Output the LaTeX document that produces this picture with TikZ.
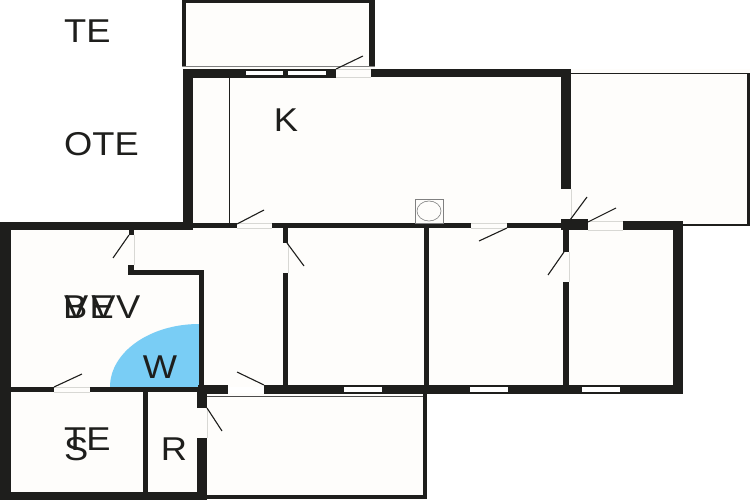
\documentclass[tikz,border=0pt]{standalone}
\usepackage{fontspec}
\setmainfont{Liberation Sans}
\definecolor{wallc}{HTML}{1E1E1C}
\definecolor{roomc}{HTML}{FEFDFB}
\definecolor{bluec}{HTML}{79CDF5}
\definecolor{gapc}{HTML}{D8D8D4}
\tikzset{
  wall/.style={fill=wallc,draw=none},
  win/.style={fill=white,draw=none},
  leaf/.style={draw=wallc,line width=1.1pt},
  gapline/.style={draw=gapc,line width=0.6pt},
  lbl/.style={font=\fontsize{33}{33}\selectfont,text=wallc,inner sep=0pt,xscale=1.1},
}
\begin{document}
\begin{tikzpicture}[x=1pt,y=-1pt]
\useasboundingbox (0,0) rectangle (750,500);
\fill[white] (0,0) rectangle (750,500);
% room floors
\fill[roomc] (183,0) rectangle (375,69);
\fill[roomc] (183,69) rectangle (750,226);
\fill[roomc] (0,222) rectangle (683,394);
\fill[roomc] (0,390) rectangle (427,500);
% blue area
\fill[bluec] (199,387) -- (110,387) arc[start angle=180,end angle=270,x radius=89,y radius=63] -- cycle;
% top box
\fill[wall] (182,0) rectangle (375,3);
\fill[wall] (182,0) rectangle (186,67);
\fill[wall] (369,0) rectangle (375,67);
\fill[gray] (182,66) rectangle (375,67.5);
% K walls
\fill[wall] (183,69) rectangle (336,78);
\fill[win] (246,71) rectangle (283,75);
\fill[win] (288,71) rectangle (326,75);
\fill[wall] (371,69) rectangle (571,77);
\fill[wall] (561,69) rectangle (571,189);
\fill[wall] (183,69) rectangle (193,230);
\fill[wall] (229,78) rectangle (230,224);
\draw[gapline] (336,69) -- (371,69) (336,77) -- (371,77);
\draw[gapline] (571,189) -- (571,220);
% K lower wall
\fill[wall] (0,222) rectangle (193,230);
\fill[wall] (193,223) rectangle (237,228);
\draw[gapline] (237,223) -- (272,223) (237,228) -- (272,228);
\fill[wall] (272,223) rectangle (471,228);
\draw[gapline] (471,223) -- (507,223) (471,228) -- (507,228);
\fill[wall] (507,223) rectangle (561,228);
\fill[wall] (561,219) rectangle (588,230);
\draw[gapline] (588,221) -- (623,221) (588,230) -- (623,230);
\fill[wall] (623,221) rectangle (683,230);
\fill[wall] (673,221) rectangle (683,394);
% partition walls
\fill[wall] (563,230) rectangle (569,252);
\draw[gapline] (569,252) -- (569,282);
\fill[wall] (563,282) rectangle (569,385);
\fill[wall] (283,228) rectangle (288,243);
\draw[gapline] (288,243) -- (288,273);
\fill[wall] (283,273) rectangle (288,385);
\fill[wall] (424,228) rectangle (429,385);
% bottom wall with windows
\fill[wall] (264,385) rectangle (683,394);
\fill[win] (344,387) rectangle (382,392);
\fill[win] (470,387) rectangle (508,392);
\fill[win] (582,387) rectangle (620,392);
\fill[wall] (198,385) rectangle (228,394);
\fill[win] (228,387) rectangle (264,393);
% left rooms
\fill[wall] (0,222) rectangle (10.5,500);
\fill[wall] (0,492) rectangle (207,500);
\fill[wall] (10,387) rectangle (54,392);
\draw[gapline] (54,387) -- (90,387) (54,392) -- (90,392);
\fill[wall] (90,387) rectangle (198,392);
\fill[wall] (197,387) rectangle (207,408);
\fill[wall] (197,438) rectangle (207,500);
\draw[gapline] (207,408) -- (207,438);
\fill[wall] (143,392) rectangle (148,492);
\fill[wall] (199,270) rectangle (204,387);
\fill[wall] (128,270) rectangle (204,275);
\fill[wall] (128,265) rectangle (134,275);
\fill[wall] (129,230) rectangle (134,235);
\draw[gapline] (134,235) -- (134,265);
% lower right box
\fill[gray!60!black] (207,395.5) rectangle (427,397);
\fill[wall] (423,394) rectangle (427,499);
\fill[wall] (207,495) rectangle (427,499);
% right thin box
\fill[wall] (571,73) rectangle (750,74.5);
\fill[wall] (747,73) rectangle (750,226);
\fill[wall] (683,224) rectangle (750,226);
% fixture
\draw[gray,line width=0.6pt] (415,199) rectangle (443,223);
\draw[gray,line width=0.6pt] (429,211) ellipse[x radius=12,y radius=10];
% door leaves
\coordinate (d1a) at (336,69); \coordinate (d1b) at (363,56);
\coordinate (d2a) at (237,224); \coordinate (d2b) at (264,210);
\coordinate (d3a) at (507,228); \coordinate (d3b) at (479,241);
\coordinate (d4a) at (570,220); \coordinate (d4b) at (587,197);
\coordinate (d5a) at (588,222); \coordinate (d5b) at (616,208);
\coordinate (d6a) at (564,252); \coordinate (d6b) at (548,275);
\coordinate (d7a) at (129,235); \coordinate (d7b) at (113,258);
\coordinate (d8a) at (287,243); \coordinate (d8b) at (304,266);
\coordinate (d9a) at (54,387); \coordinate (d9b) at (82,374);
\coordinate (d10a) at (264,385); \coordinate (d10b) at (237,372);
\coordinate (d11a) at (207,408); \coordinate (d11b) at (222,431);
\foreach \n in {1,...,11} {\draw[leaf] (d\n a) -- (d\n b);}
% labels
\node[lbl,anchor=base west] (te1) at (64,43) {TE};
\node[lbl,anchor=base west] (ote) at (64,156) {OTE};
\node[lbl,anchor=base] (k) at (286,132) {K};
\node[lbl,anchor=base west] (bev) at (63,318) {\addfontfeature{LetterSpace=6}BEV};
\node[lbl,anchor=base west] (vv) at (64,318) {\addfontfeature{LetterSpace=8}VV};
\node[lbl,anchor=base] (w) at (160,378) {W};
\node[lbl,anchor=base] (r) at (174,460) {R};
\node[lbl,anchor=base west] (te2) at (64,450) {TE};
\node[lbl,anchor=base west] (s) at (64,460) {S};
\end{tikzpicture}
\end{document}
